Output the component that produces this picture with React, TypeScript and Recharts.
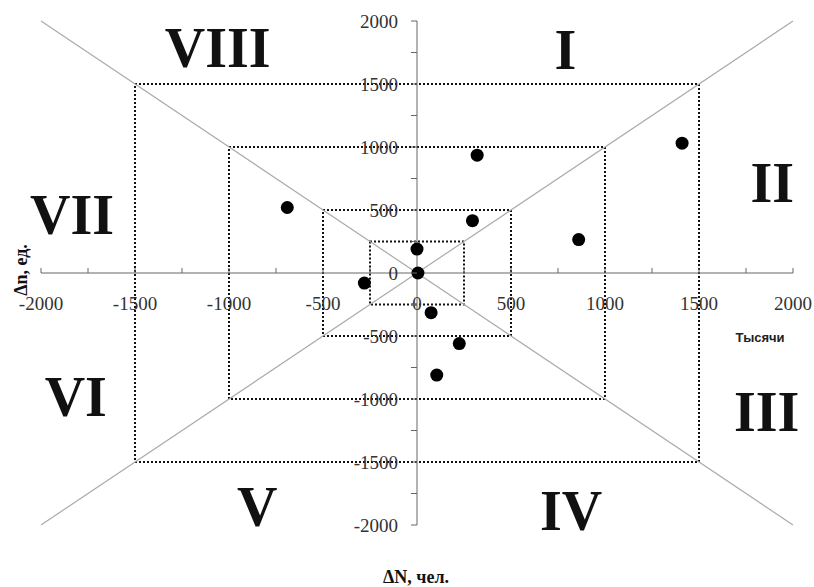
import React from 'react';
import { ScatterChart, Scatter, XAxis, YAxis, ReferenceLine, ReferenceArea, ReferenceDot } from 'recharts';

// tick positions every 250, labels only every 500
const axisTicks = [-2000, -1750, -1500, -1250, -1000, -750, -500, -250, 0, 250, 500, 750, 1000, 1250, 1500, 1750, 2000];

// ΔN (thousands) and Δn
const dN = [-690, -280, 5, 0, 295, 320, 860, 1410, 75, 225, 105];
const dn = [520, -80, 0, 190, 415, 935, 265, 1030, -315, -560, -810];

const squareSizes = [250, 500, 1000, 1500];

const zoneNames = ['I', 'II', 'III', 'IV', 'V', 'VI', 'VII', 'VIII'];
const zoneX = [790, 1890, 1860, 820, -850, -1815, -1835, -1060];
const zoneY = [1780, 720, -1100, -1880, -1850, -975, 470, 1790];

const diagonals = [
  [{ x: -2000, y: -2000 }, { x: 2000, y: 2000 }],
  [{ x: -2000, y: 2000 }, { x: 2000, y: -2000 }],
];

const points = dN.map((x, i) => ({ x, y: dn[i] }));

const W = 814;
const H = 587;
const AXIS_SIZE = 30;
// plot area: x 41..793, y 21..525
const margin = { top: 21, right: 21, bottom: 62 - AXIS_SIZE, left: 41 - AXIS_SIZE };
// axes cross in the middle of the plot
const OX = 41 + (W - 41 - 21) / 2;
const OY = 21 + (H - 21 - 62) / 2;

const serif = '"Liberation Serif", "Times New Roman", serif';

const XTick = (props: any) => {
  const { x, payload } = props;
  const v = payload.value;
  return (
    <g>
      {v !== 0 && <line x1={x} x2={x} y1={OY - 5} y2={OY} stroke="#666" />}
      {v % 500 === 0 && (
        <text x={x} y={OY + 37} textAnchor="middle" fontFamily={serif} fontSize={19} fill="#333">
          {v}
        </text>
      )}
    </g>
  );
};

const YTick = (props: any) => {
  const { y, payload } = props;
  const v = payload.value;
  return (
    <g>
      <line x1={OX - 6} x2={OX} y1={y} y2={y} stroke="#666" />
      {v % 500 === 0 && (
        <text x={OX - 19} y={y + 6.5} textAnchor="end" fontFamily={serif} fontSize={19} fill="#333">
          {v}
        </text>
      )}
    </g>
  );
};

const Dot = (props: any) => <circle cx={props.cx} cy={props.cy} r={6.5} fill="#000" />;

export default function App() {
  return (
    <div style={{ position: 'absolute', left: 0, top: 0, width: W, height: H, background: '#fff' }}>
      <ScatterChart width={W} height={H} margin={margin}>
        <XAxis
          type="number"
          dataKey="x"
          domain={[-2000, 2000]}
          ticks={axisTicks}
          interval={0}
          height={AXIS_SIZE}
          axisLine={false}
          tickLine={false}
          tick={<XTick />}
        />
        <YAxis
          type="number"
          dataKey="y"
          domain={[-2000, 2000]}
          ticks={axisTicks}
          interval={0}
          width={AXIS_SIZE}
          axisLine={false}
          tickLine={false}
          tick={<YTick />}
        />
        {diagonals.map((seg, i) => (
          <ReferenceLine key={'d' + i} segment={seg} stroke="#aaa" strokeWidth={1.2} />
        ))}
        {squareSizes.map((s) => (
          <ReferenceArea
            key={'s' + s}
            x1={-s}
            x2={s}
            y1={-s}
            y2={s}
            fill="none"
            fillOpacity={0}
            stroke="#111"
            strokeWidth={2}
            strokeDasharray="2 2"
          />
        ))}
        <ReferenceLine x={0} stroke="#666" />
        <ReferenceLine y={0} stroke="#666" />
        {zoneNames.map((name, i) => (
          <ReferenceDot
            key={name}
            x={zoneX[i]}
            y={zoneY[i]}
            r={1}
            fill="none"
            stroke="none"
            ifOverflow="visible"
            label={{
              value: name,
              position: 'center',
              fontFamily: serif,
              fontWeight: 'bold',
              fontSize: 56,
              fill: '#111',
            }}
          />
        ))}
        <Scatter data={points} shape={<Dot />} isAnimationActive={false} />
      </ScatterChart>
      <div
        style={{
          position: 'absolute',
          left: 21,
          top: 270,
          transform: 'translate(-50%, -50%) rotate(-90deg)',
          whiteSpace: 'nowrap',
          fontFamily: serif,
          fontWeight: 'bold',
          fontSize: 18,
          color: '#111',
        }}
      >
        Δn, ед.
      </div>
      <div
        style={{
          position: 'absolute',
          left: 416,
          top: 577,
          transform: 'translate(-50%, -50%)',
          whiteSpace: 'nowrap',
          fontFamily: serif,
          fontWeight: 'bold',
          fontSize: 18,
          color: '#111',
        }}
      >
        ΔN, чел.
      </div>
      <div
        style={{
          position: 'absolute',
          left: 760,
          top: 337,
          transform: 'translate(-50%, -50%)',
          whiteSpace: 'nowrap',
          fontFamily: '"Liberation Sans", Arial, sans-serif',
          fontWeight: 'bold',
          fontSize: 13,
          color: '#222',
        }}
      >
        Тысячи
      </div>
    </div>
  );
}
